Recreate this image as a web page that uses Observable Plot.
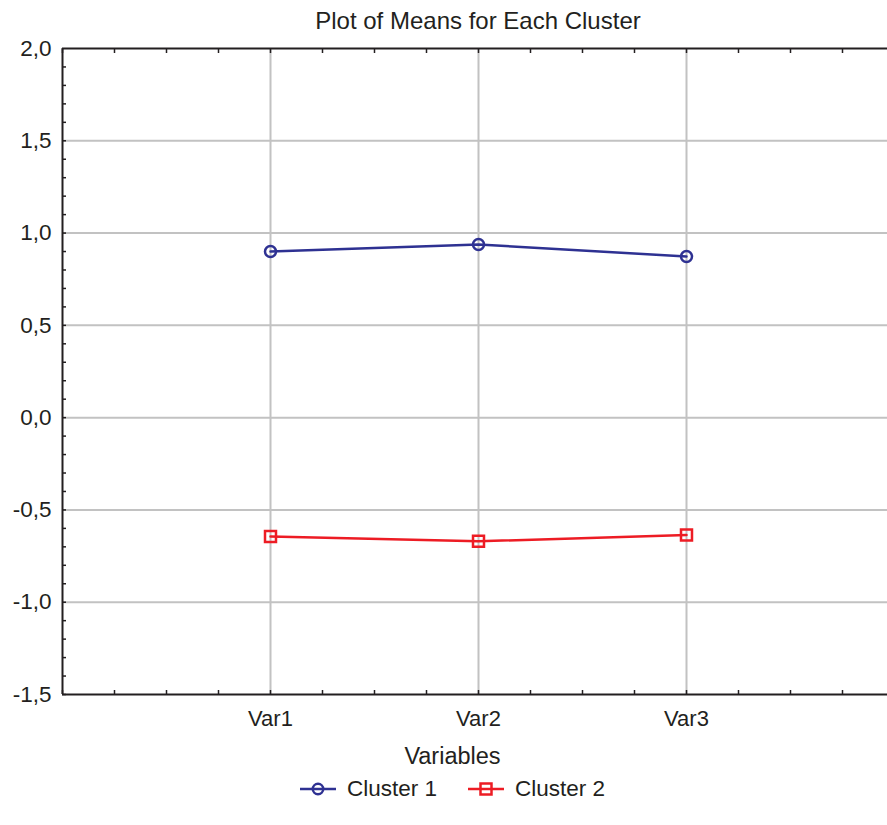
<!DOCTYPE html>
<html>
<head>
<meta charset="utf-8">
<script src="https://cdn.jsdelivr.net/npm/d3@7"></script>
<script src="https://cdn.jsdelivr.net/npm/@observablehq/plot@0.6"></script>
<style>
  html, body { margin: 0; padding: 0; background: #fff; }
  body { width: 887px; height: 825px; overflow: hidden; position: relative;
         font-family: "Liberation Sans", Arial, sans-serif; color: #231f20; }
  #chart { position: absolute; left: 0; top: 0; }
  #title { position: absolute; top: 7px; left: 62px; width: 832px; text-align: center;
           font-size: 24px; line-height: 28px; white-space: nowrap; }
  #xlabel { position: absolute; top: 742px; left: 0; width: 905px; text-align: center;
            font-size: 23.5px; line-height: 28px; }
  #legend { position: absolute; top: 775px; left: 300px; display: flex; align-items: center;
            font-size: 22.5px; line-height: 28px; }
  .item { display: flex; align-items: center; margin-right: 31px; }
  .item svg { margin-right: 11px; }
</style>
</head>
<body>
<div id="chart"></div>
<div id="title">Plot of Means for Each Cluster</div>
<div id="xlabel">Variables</div>
<div id="legend"></div>
<script>
const categories = ["Var1", "Var2", "Var3"];
const cluster1 = [0.900, 0.938, 0.873];
const cluster2 = [-0.644, -0.670, -0.636];
const seriesNames = ["Cluster 1", "Cluster 2"];
const seriesColors = ["#2e3192", "#ed1c24"];
const seriesSymbols = ["circle", "square"];
const yMajorTicks = [-1.5, -1.0, -0.5, 0.0, 0.5, 1.0, 1.5, 2.0];
const yMinorTicks = d3.range(-15, 20).map(d => d / 10);
const xMinorTicks = d3.range(0, 16).map(d => d / 4);

const data = categories.flatMap((c, i) => [
  {variable: c, pos: i + 1, value: cluster1[i], series: seriesNames[0]},
  {variable: c, pos: i + 1, value: cluster2[i], series: seriesNames[1]}
]);

const fmt = d => d.toFixed(1).replace(".", ",");
const gridColor = "#c2c2c2";
const axisColor = "#231f20";

const chart = Plot.plot({
  width: 887,
  height: 780,
  marginTop: 48,
  marginBottom: 86,
  marginLeft: 62,
  marginRight: 0,
  style: {fontFamily: "'Liberation Sans', Arial, sans-serif", fontSize: "20px", color: axisColor, background: "white", overflow: "visible"},
  x: {domain: [0, 4], range: [62, 894]},
  y: {domain: [-1.5, 2]},
  color: {domain: seriesNames, range: seriesColors},
  symbol: {domain: seriesNames, range: seriesSymbols},
  marks: [
    Plot.gridY(yMajorTicks.filter(d => d > -1.5 && d < 2), {stroke: gridColor, strokeOpacity: 1, strokeWidth: 2}),
    Plot.gridX([1, 2, 3], {stroke: gridColor, strokeOpacity: 1, strokeWidth: 2}),
    Plot.axisY(yMinorTicks, {anchor: "left", tickSize: -4, tickFormat: () => "", stroke: axisColor, strokeWidth: 1.5, label: null}),
    Plot.axisY(yMajorTicks, {anchor: "left", tickSize: 0, tickPadding: 11, tickFormat: fmt, fontSize: 22.5, fill: axisColor, label: null}),
    Plot.axisX(xMinorTicks, {anchor: "bottom", tickSize: -4, tickFormat: () => "", stroke: axisColor, strokeWidth: 1.5, label: null}),
    Plot.axisX(xMinorTicks, {anchor: "top", tickSize: -4, tickFormat: () => "", stroke: axisColor, strokeWidth: 1.5, label: null}),
    Plot.axisX([1, 2, 3], {anchor: "bottom", tickSize: 0, tickPadding: 16, tickFormat: d => categories[d - 1], fontSize: 22, fill: axisColor, label: null}),
    Plot.ruleY([-1.5, 2], {stroke: axisColor, strokeWidth: 2}),
    Plot.ruleX([0], {stroke: axisColor, strokeWidth: 2}),
    Plot.line(data, {x: "pos", y: "value", z: "series", stroke: "series", strokeWidth: 2.5}),
    Plot.dot(data.filter(d => d.series === seriesNames[0]), {x: "pos", y: "value", stroke: "series", symbol: "series", r: 5.5, strokeWidth: 2.5, fill: "none"}),
    Plot.dot(data.filter(d => d.series === seriesNames[1]), {x: "pos", y: "value", stroke: "series", symbol: "series", r: 6.2, strokeWidth: 2.5, fill: "none"})
  ]
});
document.getElementById("chart").appendChild(chart);

// legend
const legend = d3.select("#legend");
seriesNames.forEach((name, i) => {
  const item = legend.append("div").attr("class", "item");
  const svg = item.append("svg").attr("width", 36).attr("height", 16);
  svg.append("line").attr("x1", 0).attr("x2", 36).attr("y1", 8).attr("y2", 8)
    .attr("stroke", seriesColors[i]).attr("stroke-width", 2.5);
  if (seriesSymbols[i] === "circle") {
    svg.append("circle").attr("cx", 18).attr("cy", 8).attr("r", 5.2)
      .attr("fill", "none").attr("stroke", seriesColors[i]).attr("stroke-width", 2.5);
  } else {
    svg.append("rect").attr("x", 12.5).attr("y", 2.5).attr("width", 11).attr("height", 11)
      .attr("fill", "none").attr("stroke", seriesColors[i]).attr("stroke-width", 2.5);
  }
  item.append("span").text(name);
});
</script>
</body>
</html>
